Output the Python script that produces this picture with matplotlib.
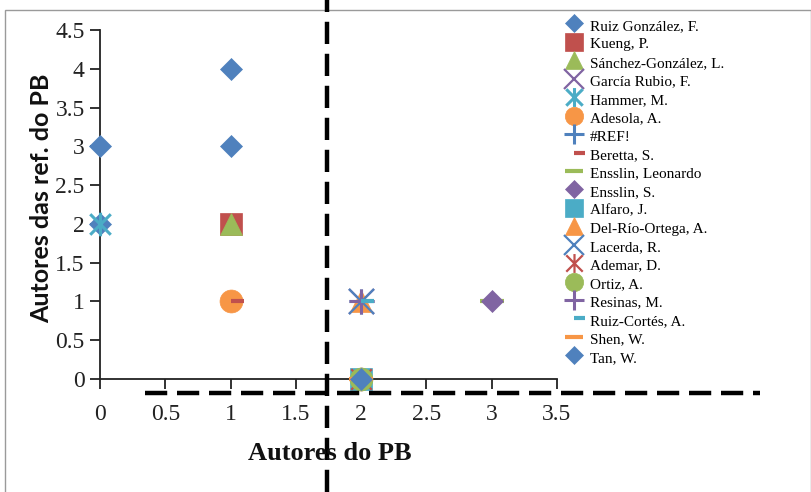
import matplotlib
matplotlib.use("Agg")
import matplotlib.pyplot as plt
from matplotlib.path import Path
from matplotlib.lines import Line2D
from matplotlib.patches import Rectangle

# Series: name, x values, y values
names = [
    "Ruiz González, F.", "Kueng, P.", "Sánchez-González, L.", "García Rubio, F.",
    "Hammer, M.", "Adesola, A.", "#REF!", "Beretta, S.", "Ensslin, Leonardo",
    "Ensslin, S.", "Alfaro, J.", "Del-Río-Ortega, A.", "Lacerda, R.",
    "Ademar, D.", "Ortiz, A.", "Resinas, M.", "Ruiz-Cortés, A.", "Shen, W.", "Tan, W.",
]
xs = [
    [0, 1, 1, 0], [1], [1], [2], [0], [1], [2], [1], [3],
    [3], [2], [2], [2], [2], [2], [2], [2], [2], [2],
]
ys = [
    [3, 4, 3, 2], [2], [2], [1], [2], [1], [1], [1], [1],
    [1], [0], [1], [1], [0], [0], [1], [1], [0], [0],
]

x_ticks = [0, 0.5, 1, 1.5, 2, 2.5, 3, 3.5]
x_tick_labels = ["0", "0.5", "1", "1.5", "2", "2.5", "3", "3.5"]
y_ticks = [0, 0.5, 1, 1.5, 2, 2.5, 3, 3.5, 4, 4.5]
y_tick_labels = ["0", "0.5", "1", "1.5", "2", "2.5", "3", "3.5", "4", "4.5"]

BLUE, RED, GREEN, PURPLE, AQUA, ORANGE = (
    "#4F81BD", "#C0504D", "#9BBB59", "#8064A2", "#4BACC6", "#F79646")

# Excel-style "star": an X with a vertical stroke
star = Path(
    [(-1, -1), (1, 1), (-1, 1), (1, -1), (0, -1.15), (0, 1.15)],
    [Path.MOVETO, Path.LINETO, Path.MOVETO, Path.LINETO, Path.MOVETO, Path.LINETO],
)
# short dash drawn from the point towards the right
short_dash = Path([(0, 0), (1, 0)], [Path.MOVETO, Path.LINETO])

styles = [
    dict(marker="D", color=BLUE, ms=11.5, filled=True),
    dict(marker="s", color=RED, ms=16, filled=True),
    dict(marker="^", color=GREEN, ms=16, filled=True),
    dict(marker="x", color=PURPLE, ms=18, filled=False, mew=1.6),
    dict(marker=star, color=AQUA, ms=17, filled=False, mew=2.2),
    dict(marker="o", color=ORANGE, ms=16.5, filled=True),
    dict(marker="+", color=BLUE, ms=18, filled=False, mew=2.2),
    dict(marker=short_dash, color=RED, ms=19, filled=False, mew=3),
    dict(marker="_", color=GREEN, ms=17, filled=False, mew=3),
    dict(marker="D", color=PURPLE, ms=11.5, filled=True),
    dict(marker="s", color=AQUA, ms=16, filled=True),
    dict(marker="^", color=ORANGE, ms=16, filled=True),
    dict(marker="x", color=BLUE, ms=18, filled=False, mew=1.6),
    dict(marker=star, color=RED, ms=17, filled=False, mew=1.6),
    dict(marker="o", color=GREEN, ms=16.5, filled=True),
    dict(marker="+", color=PURPLE, ms=18, filled=False, mew=2.2),
    dict(marker=short_dash, color=AQUA, ms=19, filled=False, mew=3),
    dict(marker="_", color=ORANGE, ms=17, filled=False, mew=3),
    dict(marker="D", color=BLUE, ms=11.5, filled=True),
]

W, H = 812, 492
fig = plt.figure(figsize=(W / 100, H / 100), dpi=100)
ax = fig.add_axes([100 / W, (H - 379) / H, 457 / W, 349 / H])

handles = []
for name, x, y, st in zip(names, xs, ys, styles):
    kw = dict(linestyle="none", marker=st["marker"], markersize=st["ms"],
              color=st["color"], clip_on=False, label=name, zorder=3)
    if st["filled"]:
        kw.update(markerfacecolor=st["color"], markeredgecolor=st["color"],
                  markeredgewidth=0.5)
    else:
        kw.update(markeredgewidth=st["mew"])
    h, = ax.plot(x, y, **kw)
    handles.append(h)

ax.set_xlim(0, 3.5)
ax.set_ylim(0, 4.5)
for s in ("top", "right"):
    ax.spines[s].set_visible(False)
for s in ("left", "bottom"):
    ax.spines[s].set_linewidth(1.3)
    ax.spines[s].set_color("#222222")
ax.set_xticks(x_ticks)
ax.set_xticklabels(x_tick_labels)
ax.set_yticks(y_ticks)
ax.set_yticklabels(y_tick_labels)
ax.tick_params(axis="both", direction="out", length=7, width=1.3, color="#222222",
               labelsize=17, labelcolor="#222222")
ax.tick_params(axis="x", pad=11)
ax.tick_params(axis="y", pad=4)
for lab in ax.get_xticklabels() + ax.get_yticklabels():
    lab.set_fontfamily("Liberation Serif")

fig.text(330 / W, 1 - 453 / H, "Autores do PB", ha="center", va="center",
         fontsize=19, fontweight="bold", family="Liberation Serif", color="#111111")
fig.text(42 / W, 1 - 198 / H, "Autores das ref. do PB", ha="center", va="center",
         rotation=90, fontsize=18, fontweight="bold", family="Lato", color="#111111")

leg = fig.legend(handles=handles, loc="upper left", bbox_to_anchor=(566 / W, 1 - 17 / H),
                 frameon=False, markerscale=0.8, handlelength=1.1, handletextpad=0.45,
                 handleheight=1.2, labelspacing=0.16,
                 prop=dict(family="Liberation Serif", size=11),
                 borderaxespad=0, borderpad=0)

# dashed guide lines across the figure
fig.add_artist(Line2D([327 / W, 327 / W], [0, 1], color="black", lw=3.2,
                      linestyle=(0, (5, 2.2)), transform=fig.transFigure))
fig.add_artist(Line2D([145 / W, 760 / W], [1 - 393 / H, 1 - 393 / H], color="black",
                      lw=3.2, linestyle=(0, (5, 2.2)), transform=fig.transFigure))

# outer frame
fig.add_artist(Rectangle((5 / W, -0.01), 806 / W, 1 - 10 / H + 0.01, fill=False,
                         edgecolor="#9a9a9a", lw=1, transform=fig.transFigure))

fig.savefig("out.png", dpi=100)
